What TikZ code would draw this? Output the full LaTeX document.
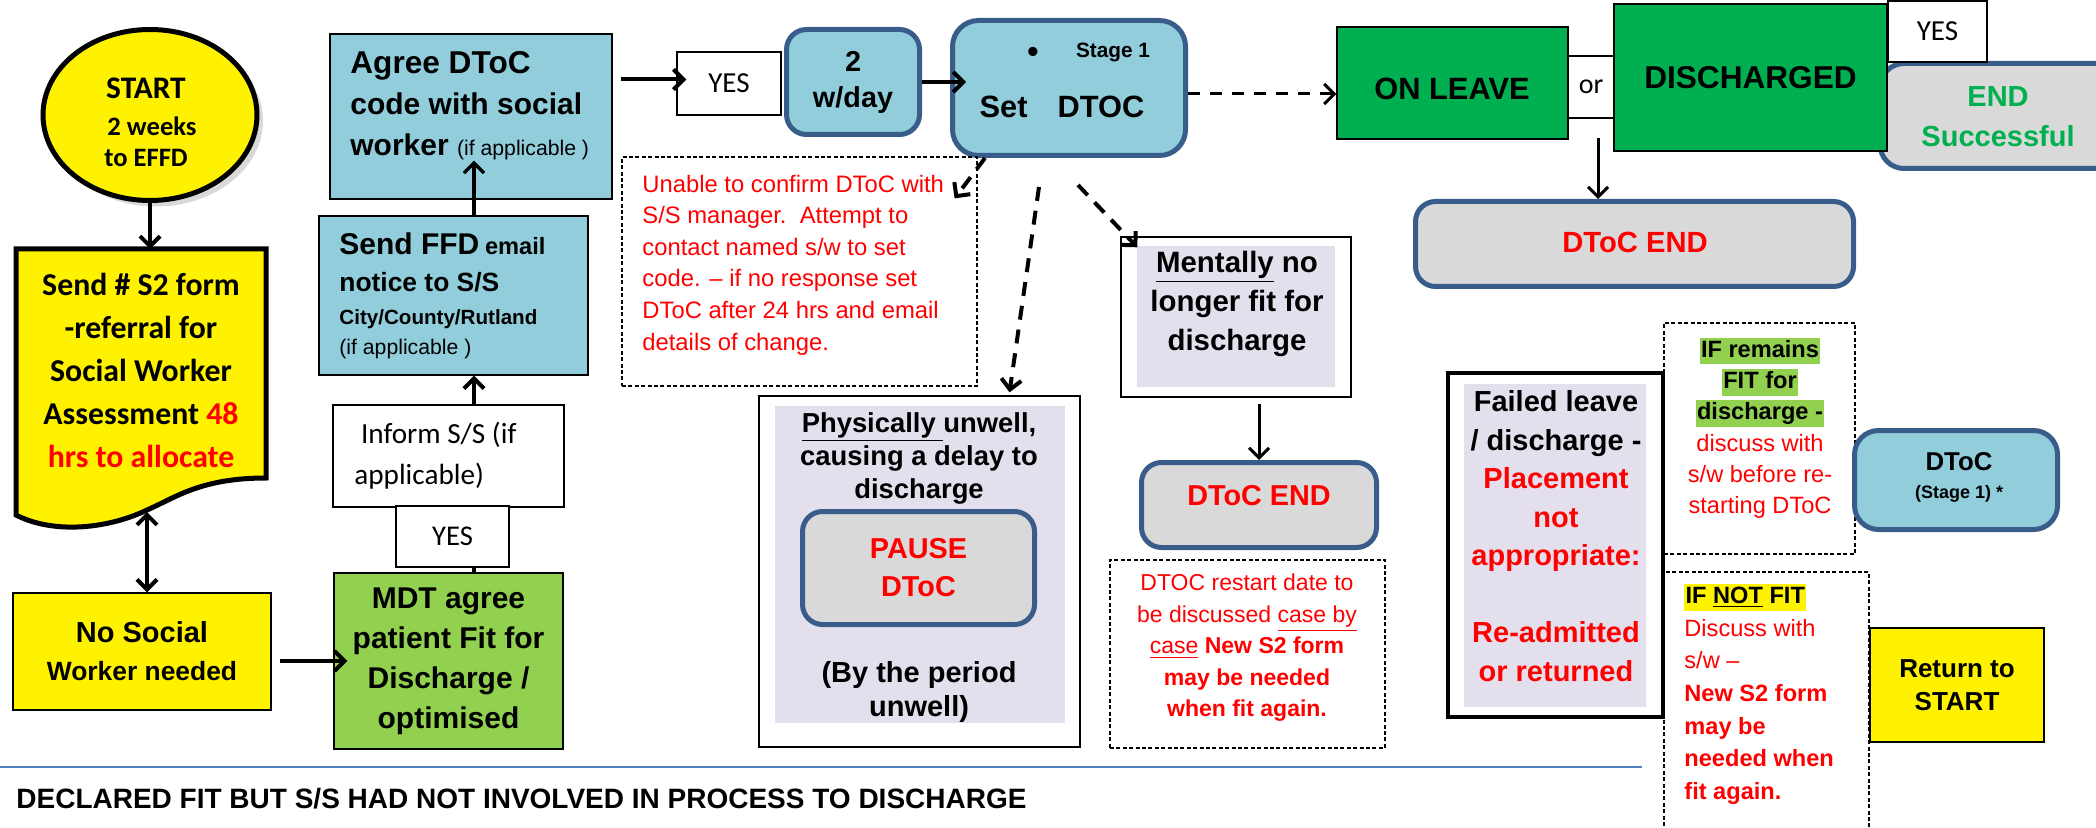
\documentclass[tikz,border=0pt]{standalone}
\usepackage{fontspec}
\setmainfont{Liberation Sans}
\newfontfamily\calib{Carlito}
\usetikzlibrary{arrows.meta, shapes.geometric, shadows}
\definecolor{aqua}{HTML}{92CDDC}
\definecolor{edgeblue}{HTML}{385D8A}
\definecolor{lightgreen}{HTML}{92D050}
\definecolor{darkgreen}{HTML}{00B050}
\definecolor{greybox}{HTML}{D9D9D9}
\definecolor{lavender}{HTML}{E4DFEC}
\definecolor{rulerblue}{HTML}{4F81BD}
\newcommand{\fsz}[2]{\fontsize{#1}{#2}\selectfont}
\newcommand{\hlstrut}{\rule[-2.8pt]{0pt}{12.2pt}}
\setlength{\fboxsep}{0.6pt}

\begin{document}
\begin{tikzpicture}[x=0.5pt, y=-0.5pt,
		plain/.style={draw=black, line width=0.7pt, inner sep=0pt, align=center},
		rbox/.style={draw=edgeblue, line width=2.5pt, rounded corners=10pt, inner sep=0pt, align=center},
		dbox/.style={draw=black, line width=0.6pt, dash pattern=on 2pt off 1.2pt, inner sep=0pt},
		txt/.style={inner sep=0pt, align=center},
		arr/.style={-{Straight Barb[length=5pt, width=10pt]}, line width=2pt},
		arr2/.style={{Straight Barb[length=5pt, width=10pt]}-{Straight Barb[length=5pt, width=10pt]}, line width=2pt},
		darr/.style={-{Straight Barb[length=5pt, width=10pt]}, line width=2pt, dash pattern=on 7pt off 5pt}]

		\useasboundingbox (0, 0) rectangle (2096, 828);
		\clip (0, 0) rectangle (2096, 828);

		\node[ellipse, draw=black, line width=2.5pt, fill=yellow, minimum width=107pt, minimum height=85.5pt, inner sep=0pt,
			drop shadow={opacity=0.3, shadow xshift=3pt, shadow yshift=-3pt}] (start) at (150, 115) {};
		\node[txt, font=\calib\bfseries\fsz{13.3}{15.5}] (starttxt) at (146, 122) {{\fsz{15.7}{18}START}\\[3pt]\ \ 2 weeks\\to EFFD};

		\draw[line width=2.5pt, fill=yellow] (16, 249) -- (266, 249) -- (266, 478)
			.. controls (200, 478) and (175, 498) .. (147, 510)
			.. controls (110, 528) and (55, 535) .. (16, 515) -- cycle;
		\coordinate (sendtop) at (150, 249);
		\coordinate (sendbot) at (147, 512);
		\node[txt, font=\calib\bfseries\fsz{15.9}{21.5}] (sendtxt) at (141, 370) {Send \# S2 form\\-referral for\\Social Worker\\Assessment \textcolor{red}{48}\\\textcolor{red}{hrs to allocate}};

		\node[plain, fill=yellow, minimum width=129pt, minimum height=58.5pt, font=\bfseries\fsz{13.2}{19}] (nosocial) at (142, 651.5) {{\fsz{14.5}{19}No Social}\\Worker needed};

		\node[plain, fill=lightgreen, minimum width=114.5pt, minimum height=88pt, font=\bfseries\fsz{15}{20}] (mdt) at (448.5, 661) {MDT agree\\patient Fit for\\Discharge /\\optimised};

		\node[plain, fill=white, minimum width=115.5pt, minimum height=51pt] (inform) at (448.5, 456) {};
		\node[txt, anchor=west, align=left, font=\calib\fsz{14.6}{20.5}] (informtxt) at (354, 456) {\ Inform S/S (if\\applicable)};

		\node[plain, fill=white, minimum width=56.5pt, minimum height=30.5pt, font=\calib\fsz{14.3}{16}] (yes1) at (452.5, 536.5) {YES};

		\node[plain, fill=aqua, minimum width=134.5pt, minimum height=79.5pt] (ffd) at (453.5, 295.5) {};
		\node[txt, anchor=west, align=left, font=\bfseries\fsz{10.3}{15}] (ffdtxt) at (339, 296) {{\fsz{15}{18}Send FFD} {\fsz{11.8}{14}email}\\[3.3pt]{\fsz{13.2}{16}notice to S/S}\\[1.5pt]City/County/Rutland\\{\normalfont\fsz{10.6}{13}(if applicable )}};

		\node[plain, fill=aqua, minimum width=141pt, minimum height=82.5pt] (agree) at (471, 116.5) {};
		\node[txt, anchor=west, align=left, font=\bfseries\fsz{15}{20.5}] (agreetxt) at (350, 106) {{\fsz{15.8}{20.5}Agree DToC}\\code with social\\worker {\normalfont\fsz{10.6}{12}(if applicable )}};

		\coordinate (spine) at (474, 0);
		\draw[arr] (start.south) to (sendtop);
		\draw[arr2] (sendbot) to (sendbot |- nosocial.north);
		\draw[arr, shorten <=4pt, shorten >=-7pt] (nosocial.east |- mdt.west) to (mdt.west);
		\draw[line width=2pt] (mdt.north -| spine) to (yes1.south -| spine);
		\draw[arr] (inform.north -| spine) to (ffd.south -| spine);
		\draw[arr, line width=1.7pt] (ffd.north -| spine) to (spine |- agreetxt.south);

		\node[plain, fill=white, minimum width=52pt, minimum height=31.5pt, font=\calib\fsz{14.5}{16}] (yes2) at (729, 83.5) {YES};
		\draw[arr, shorten <=4pt, shorten >=-5pt] ([yshift=2pt]agree.east |- yes2.west) to ([yshift=2pt]yes2.west);

		\node[rbox, fill=aqua, minimum width=66.5pt, minimum height=52.5pt, font=\bfseries\fsz{14.4}{18}] (twoday) at (853, 82) {2\\w/day};

		\node[rbox, rounded corners=13pt, fill=aqua, minimum width=116.5pt, minimum height=67.5pt] (setdtoc) at (1069, 88) {};
		\node[txt, font=\bfseries\fsz{16}{16}] (bullet) at (1033, 55) {\textbullet};
		\node[txt, font=\bfseries\fsz{10.4}{12}] (stagetxt) at (1113, 52) {Stage 1};
		\node[txt, font=\bfseries\fsz{15.4}{18}] (settxt) at (1062, 107) {Set\hspace{15pt}DTOC};
		\draw[arr, shorten >=-8pt] (twoday.east) to (twoday.east -| setdtoc.west);

		\node[dbox, minimum width=177.5pt, minimum height=114.5pt] (redbox1) at (799.5, 271.5) {};
		\node[txt, anchor=west, align=left, text=red, font=\fsz{11.9}{15.8}] (redtxt1) at (642, 265) {Unable to confirm DToC with\\S/S manager.\ \ Attempt to\\contact named s/w to set\\code. -- if no response set\\DToC after 24 hrs and email\\details of change.};

		\node[plain, minimum width=160.5pt, minimum height=175.5pt] (physically) at (919.5, 571.5) {};
		\fill[lavender] (775, 406) rectangle (1065, 723);
		\node[txt, font=\bfseries\fsz{13.7}{16.5}] (phystxt) at (919, 458) {\underline{Physically }unwell,\\causing a delay to\\discharge};
		\node[rbox, fill=greybox, minimum width=116pt, minimum height=56.5pt, text=red, font=\bfseries\fsz{14.4}{19}] (pause) at (918.5, 568) {PAUSE\\DToC};
		\node[txt, font=\bfseries\fsz{14.5}{17}] (periodtxt) at (919, 692) {(By the period\\unwell)};

		\node[plain, minimum width=115pt, minimum height=80pt] (mentally) at (1236, 317) {};
		\fill[lavender] (1137, 246) rectangle (1335, 387);
		\node[txt, font=\bfseries\fsz{14.7}{19.5}] (menttxt) at (1237, 304) {\underline{Mentally} no\\longer fit for\\discharge};

		\node[rbox, fill=greybox, minimum width=117.5pt, minimum height=42.5pt] (endmid) at (1259, 505) {};
		\node[txt, text=red, font=\bfseries\fsz{14.4}{16}] (endmidtxt) at (1259, 496) {DToC END};
		\draw[arr, line width=1.5pt, shorten <=3pt] (endmid.north |- mentally.south) to (endmid.north);

		\node[dbox, minimum width=137.5pt, minimum height=94pt] (redbox2) at (1247.5, 654) {};
		\node[txt, text=red, font=\fsz{11.5}{15.75}] (redtxt2) at (1247, 648) {DTOC restart date to\\be discussed \underline{case by}\\\underline{case} \textbf{New S2 form}\\\textbf{may be needed}\\\textbf{when fit again.}};

		\draw[darr] ([xshift=-42pt]setdtoc.south) to ([xshift=-11.5pt, yshift=-21pt]redbox1.north east);
		\draw[darr] ([xshift=-15pt, yshift=-14.5pt]setdtoc.south) to ([xshift=45pt, yshift=1.5pt]physically.north);
		\draw[darr] ([xshift=4.5pt, yshift=-13.5pt]setdtoc.south) to ([xshift=8.5pt, yshift=-5.5pt]mentally.north west);

		\node[rbox, rounded corners=12pt, fill=greybox, minimum width=125pt, minimum height=52.5pt] (endok) at (2005, 116) {};
		\node[txt, text=darkgreen, font=\bfseries\fsz{14.5}{20}] (endoktxt) at (1998, 117) {END\\Successful};
		\node[plain, fill=darkgreen, minimum width=115.5pt, minimum height=56pt] (onleave) at (1452.5, 83) {};
		\node[txt, font=\bfseries\fsz{15.4}{18}] (onleavetxt) at (1452, 89) {ON LEAVE};
		\node[plain, fill=white, minimum width=23pt, minimum height=31pt, font=\calib\fsz{14}{16}] (orbox) at (1591, 87) {or};
		\node[plain, fill=darkgreen, minimum width=136.5pt, minimum height=73.5pt, font=\bfseries\fsz{15.8}{18}] (discharged) at (1750.5, 77.5) {DISCHARGED};
		\node[plain, fill=white, minimum width=49.5pt, minimum height=30.5pt, font=\calib\fsz{14.5}{16}] (yes3) at (1937.5, 31.5) {YES};
		\draw[darr, line width=1.5pt, dash pattern=on 6pt off 5pt] ([yshift=-3pt]setdtoc.east) to ([yshift=-3pt]setdtoc.east -| onleave.west);

		\node[rbox, fill=greybox, minimum width=219pt, minimum height=42.5pt] (endright) at (1634.5, 244) {};
		\node[txt, text=red, font=\bfseries\fsz{14.6}{16}] (endrighttxt) at (1635, 242) {DToC END};
		\draw[arr, line width=1.5pt] ([xshift=3.5pt, yshift=-9.5pt]orbox.south) to ([xshift=3.5pt]orbox.south |- endright.north);

		\node[draw=black, line width=2pt, minimum width=107.5pt, minimum height=172pt, inner sep=0pt] (failed) at (1555.5, 545) {};
		\fill[lavender] (1464, 384) rectangle (1646, 707);
		\node[txt, font=\bfseries\fsz{14.5}{19.25}] (failedtxt) at (1556, 536) {Failed leave\\/ discharge -\\\textcolor{red}{Placement}\\\textcolor{red}{not}\\\textcolor{red}{appropriate:}\\[19.25pt]\textcolor{red}{Re-admitted}\\\textcolor{red}{or returned}};

		\node[dbox, minimum width=95.5pt, minimum height=115.5pt] (ifremains) at (1759.5, 438.5) {};
		\node[txt, font=\fsz{11.8}{15.6}] (remaintxt) at (1760, 428) {\colorbox{lightgreen}{\hlstrut\textbf{IF remains}}\\\colorbox{lightgreen}{\hlstrut\textbf{FIT for}}\\\colorbox{lightgreen}{\hlstrut\textbf{discharge -}}\\\textcolor{red}{discuss with}\\\textcolor{red}{s/w before re-}\\\textcolor{red}{starting DToC}};

		\node[rbox, rounded corners=12pt, fill=aqua, minimum width=101.5pt, minimum height=49.5pt] (stage1) at (1956, 480) {};
		\node[txt, font=\bfseries\fsz{12.9}{14}] (stage1txt) at (1959, 477) {DToC\\{\fsz{9}{10}(Stage 1) *}};

		\node[dbox, minimum width=102.5pt, minimum height=150pt] (ifnotfit) at (1766.5, 722) {};
		\node[txt, anchor=west, align=left, font=\fsz{11.8}{16.3}] (notfittxt) at (1684, 694) {\colorbox{yellow}{\hlstrut\textbf{IF \underline{NOT} FIT}}\\\textcolor{red}{Discuss with}\\\textcolor{red}{s/w --}\\\textcolor{red}{\textbf{New S2 form}}\\\textcolor{red}{\textbf{may be}}\\\textcolor{red}{\textbf{needed when}}\\\textcolor{red}{\textbf{fit again.}}};

		\node[plain, fill=yellow, minimum width=87pt, minimum height=57pt, font=\bfseries\fsz{13}{16.5}] (returnstart) at (1957, 685) {Return to\\START};

		\draw[rulerblue, line width=1pt] (0, 767) to (1642, 767);
		\node[txt, anchor=west, font=\bfseries\fsz{14}{16}] (footer) at (16, 799) {DECLARED FIT BUT S/S HAD NOT INVOLVED IN PROCESS TO DISCHARGE};
	\end{tikzpicture}
\end{document}
